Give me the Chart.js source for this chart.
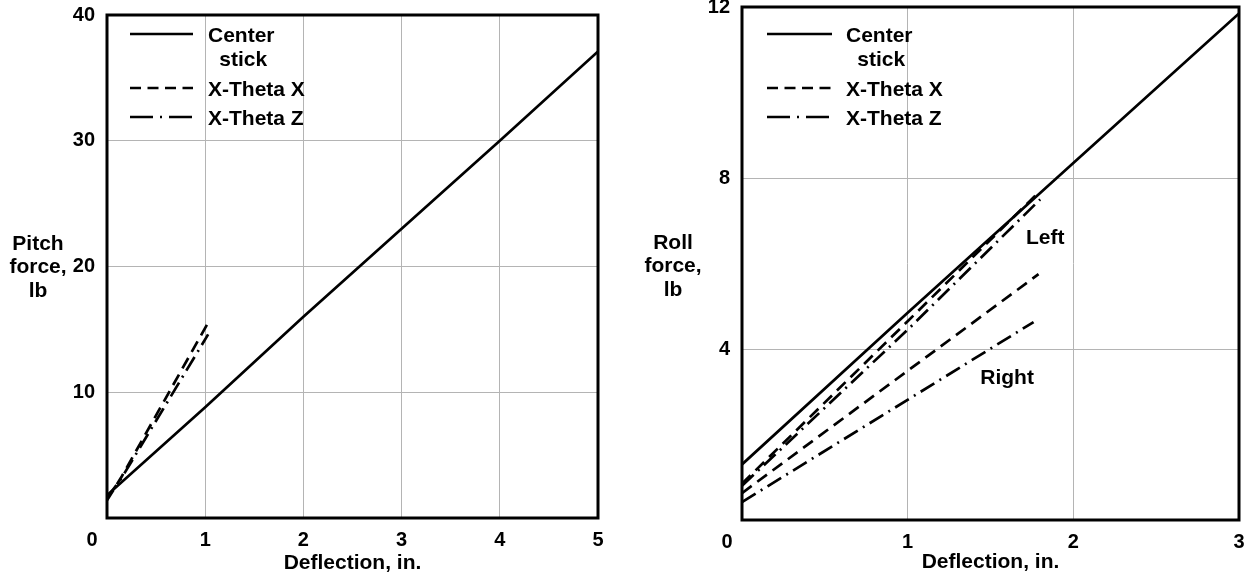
<!DOCTYPE html>
<html>
<head>
<meta charset="utf-8">
<title>Pitch and roll force vs deflection</title>
<script src="https://cdn.jsdelivr.net/npm/chart.js@4.4.0/dist/chart.umd.min.js"></script>
<style>
  html, body { margin: 0; padding: 0; background: #fff; }
  #wrap { position: relative; width: 1249px; height: 580px; }
  .panel { position: absolute; top: 0; height: 580px; }
  #pitch-panel { left: 0; width: 620px; }
  #roll-panel { left: 620px; width: 629px; }
</style>
</head>
<body>
<div id="wrap">
  <div class="panel" id="pitch-panel"><canvas id="pitchChart" width="620" height="580"></canvas></div>
  <div class="panel" id="roll-panel"><canvas id="rollChart" width="629" height="580"></canvas></div>
</div>
<script>
// Pitch force, lb vs deflection, in.
const pitchCenterDefl = [0, 1, 2, 3, 4, 5];
const pitchCenterForce = [1.8, 8.8, 16, 23, 30, 37.1];
const pitchThetaXDefl = [0, 0.15, 1.02];
const pitchThetaXForce = [1.4, 3.3, 15.4];
const pitchThetaZDefl = [0, 0.15, 1.03];
const pitchThetaZForce = [1.6, 3.2, 14.6];
const pitchDeflTicks = [0, 1, 2, 3, 4, 5];
const pitchForceTicks = [0, 10, 20, 30, 40];

// Roll force, lb vs deflection, in.
const rollCenterDefl = [0, 1, 2, 3];
const rollCenterForce = [1.3, 4.85, 8.35, 11.85];
const rollLeftXDefl = [0, 1, 1.8];
const rollLeftXForce = [0.85, 4.65, 7.7];
const rollLeftZDefl = [0, 1, 1.8];
const rollLeftZForce = [0.8, 4.45, 7.5];
const rollRightXDefl = [0, 1.79];
const rollRightXForce = [0.63, 5.75];
const rollRightZDefl = [0, 1.76];
const rollRightZForce = [0.42, 4.63];
const rollDeflTicks = [0, 1, 2, 3];
const rollForceTicks = [0, 4, 8, 12];

const FONT = "'Liberation Sans', Arial, Helvetica, sans-serif";
const DASHED = [12, 7];
const DASH_DOT = [16, 6, 2, 6];

function points(xs, ys) {
    return xs.map((x, i) => ({ x: x, y: ys[i] }));
}

function series(label, xs, ys, dash) {
    return {
        label: label,
        data: points(xs, ys),
        showLine: true,
        borderColor: '#000',
        borderWidth: 2.7,
        borderDash: dash,
        pointRadius: 0,
        pointHoverRadius: 0,
        fill: false
    };
}

// Frame, in-plot legend, horizontal y title, corner zero and notes
const decorPlugin = {
    id: 'decor',
    afterDraw(chart, args, opts) {
        const { ctx, chartArea: a } = chart;
        ctx.save();

        ctx.strokeStyle = '#000';
        ctx.lineWidth = 3;
        ctx.setLineDash([]);
        ctx.strokeRect(a.left, a.top, a.right - a.left, a.bottom - a.top);

        ctx.fillStyle = '#000';
        ctx.textBaseline = 'middle';

        // "0" sits in the corner below-left of the frame
        ctx.font = 'bold 20px ' + FONT;
        ctx.textAlign = 'center';
        ctx.fillText('0', a.left - 15, a.bottom + 22);

        // legend
        ctx.font = 'bold 21px ' + FONT;
        opts.legend.forEach(item => {
            ctx.lineWidth = 2.5;
            ctx.setLineDash(item.dash);
            ctx.beginPath();
            ctx.moveTo(a.left + opts.legendX[0], item.y);
            ctx.lineTo(a.left + opts.legendX[1], item.y);
            ctx.stroke();
            ctx.setLineDash([]);
            const tx = a.left + opts.legendX[2];
            ctx.textAlign = 'left';
            ctx.fillText(item.lines[0], tx, item.y + 2);
            const w = ctx.measureText(item.lines[0]).width;
            ctx.textAlign = 'center';
            for (let i = 1; i < item.lines.length; i++) {
                ctx.fillText(item.lines[i], tx + w / 2 + 2, item.y + 2 + i * 24);
            }
        });

        // y axis title, written horizontally
        ctx.textAlign = 'center';
        opts.yTitle.lines.forEach((line, i) => {
            ctx.fillText(line, opts.yTitle.x, opts.yTitle.y + i * 23.5);
        });

        // notes placed in data units
        (opts.notes || []).forEach(n => {
            ctx.fillText(n.text, chart.scales.x.getPixelForValue(n.x), chart.scales.y.getPixelForValue(n.y));
        });

        ctx.restore();
    }
};

function makeOptions(cfg) {
    const tickFont = { family: FONT, size: 20, weight: 'bold' };
    return {
        responsive: false,
        animation: false,
        devicePixelRatio: 1,
        events: [],
        layout: { padding: cfg.padding },
        plugins: {
            legend: { display: false },
            tooltip: { enabled: false },
            decor: cfg.decor
        },
        scales: {
            x: {
                type: 'linear',
                min: cfg.xTicks[0],
                max: cfg.xTicks[cfg.xTicks.length - 1],
                afterBuildTicks: s => { s.ticks = cfg.xTicks.map(v => ({ value: v })); },
                afterFit: s => { s.height = cfg.xAxisHeight; s.paddingLeft = 0; s.paddingRight = 0; },
                grid: { color: '#b4b4b4', lineWidth: 1, drawTicks: false },
                border: { display: false },
                ticks: {
                    color: '#000',
                    font: tickFont,
                    padding: 10,
                    maxRotation: 0,
                    autoSkip: false,
                    callback: v => (v === 0 ? '' : String(v))
                },
                title: {
                    display: true,
                    text: 'Deflection, in.',
                    color: '#000',
                    font: { family: FONT, size: 21, weight: 'bold' },
                    padding: { top: 0, bottom: cfg.titlePad }
                }
            },
            y: {
                type: 'linear',
                min: cfg.yTicks[0],
                max: cfg.yTicks[cfg.yTicks.length - 1],
                afterBuildTicks: s => { s.ticks = cfg.yTicks.map(v => ({ value: v })); },
                afterFit: s => { s.width = cfg.yAxisWidth; s.paddingTop = 0; s.paddingBottom = 0; },
                grid: { color: '#b4b4b4', lineWidth: 1, drawTicks: false },
                border: { display: false },
                ticks: {
                    color: '#000',
                    font: tickFont,
                    padding: 12,
                    autoSkip: false,
                    callback: v => (v === 0 ? '' : String(v))
                }
            }
        }
    };
}

const legendBase = (dashed, dashDot) => [
    { lines: ['Center', 'stick'], dash: [], y: 34 },
    { lines: ['X-Theta X'], dash: dashed, y: 88 },
    { lines: ['X-Theta Z'], dash: dashDot, y: 117 }
];

new Chart(document.getElementById('pitchChart'), {
    type: 'scatter',
    data: {
        datasets: [
            series('Center stick', pitchCenterDefl, pitchCenterForce, []),
            series('X-Theta X', pitchThetaXDefl, pitchThetaXForce, DASHED),
            series('X-Theta Z', pitchThetaZDefl, pitchThetaZForce, DASH_DOT)
        ]
    },
    options: makeOptions({
        padding: { left: 0, top: 15, right: 22, bottom: 0 },
        yAxisWidth: 107,
        xAxisHeight: 62,
        titlePad: 4,
        xTicks: pitchDeflTicks,
        yTicks: pitchForceTicks,
        decor: {
            legend: legendBase([11, 6.5], [23, 7, 2, 7]),
            legendX: [23, 86, 101],
            yTitle: { lines: ['Pitch', 'force,', 'lb'], x: 38, y: 244 }
        }
    }),
    plugins: [decorPlugin]
});

new Chart(document.getElementById('rollChart'), {
    type: 'scatter',
    data: {
        datasets: [
            series('Center stick', rollCenterDefl, rollCenterForce, []),
            series('X-Theta X left', rollLeftXDefl, rollLeftXForce, DASHED),
            series('X-Theta Z left', rollLeftZDefl, rollLeftZForce, DASH_DOT),
            series('X-Theta X right', rollRightXDefl, rollRightXForce, DASHED),
            series('X-Theta Z right', rollRightZDefl, rollRightZForce, DASH_DOT)
        ]
    },
    options: makeOptions({
        padding: { left: 0, top: 7, right: 10, bottom: 0 },
        yAxisWidth: 122,
        xAxisHeight: 60,
        titlePad: 5,
        xTicks: rollDeflTicks,
        yTicks: rollForceTicks,
        decor: {
            legend: legendBase([11, 6.5], [23, 7, 2, 7]),
            legendX: [25, 90, 104],
            yTitle: { lines: ['Roll', 'force,', 'lb'], x: 53, y: 243 },
            notes: [
                { text: 'Left', x: 1.83, y: 6.6 },
                { text: 'Right', x: 1.6, y: 3.32 }
            ]
        }
    }),
    plugins: [decorPlugin]
});
</script>
</body>
</html>
